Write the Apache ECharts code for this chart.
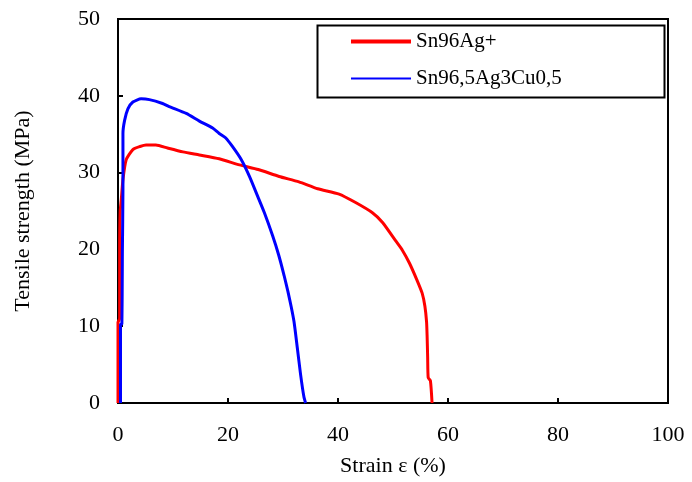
<!DOCTYPE html>
<html>
<head>
<meta charset="utf-8">
<script src="https://cdn.jsdelivr.net/npm/echarts@6/dist/echarts.min.js"></script>
<style>
html,body{margin:0;padding:0;background:#fff;}
#chart{width:692px;height:482px;}
</style>
</head>
<body>
<div id="chart"></div>
<script>
var FONT = "'Liberation Serif', 'Times New Roman', serif";
var seriesNames = ["Sn96Ag+", "Sn96,5Ag3Cu0,5"];
var xTicks = [0, 20, 40, 60, 80, 100];
var yTicks = [0, 10, 20, 30, 40, 50];
// Strain (%) , Tensile strength (MPa)
var sn96AgPlus = [
  [0,0],[0,10.5],[0.3,11],[0.3,20],[0.4,25],[0.6,26.5],[0.9,29.1],[1.5,31.7],[2.7,33.0],[4,33.4],
  [5.1,33.6],[6.9,33.6],[9,33.2],[11.8,32.7],[14.8,32.3],[18.4,31.8],[22.1,31.0],[25.5,30.4],
  [29.3,29.5],[32.9,28.8],[36.3,27.9],[40.2,27.2],[43.2,26.1],[46.2,24.8],[48.1,23.5],[50.5,21.1],
  [51.7,19.9],[53.0,18.2],[54.3,16.1],[55.3,14.3],[55.8,12.6],[56.1,10.6],[56.2,8.8],[56.3,6],
  [56.4,3.3],[56.8,2.9],[57.1,0]
];
var sn965Ag3Cu05 = [
  [0.45,0],[0.45,10.2],[0.7,10.3],[0.8,20],[0.9,27.8],[0.9,35.1],[1.2,36.8],[1.8,38.3],[2.7,39.2],
  [4.2,39.6],[5.7,39.5],[8.1,39.0],[9.3,38.6],[12.4,37.7],[14.8,36.7],[17.2,35.8],[18.4,35.1],
  [19.6,34.5],[20.8,33.4],[22.4,31.7],[23.9,29.5],[25.4,26.9],[26.6,24.8],[28.1,21.8],[29.2,19.3],
  [30.2,16.6],[30.9,14.5],[31.5,12.5],[32.0,10.6],[32.6,7.2],[33.2,3.7],[33.8,0.8],[34.1,0]
];

var chart = echarts.init(document.getElementById('chart'), null, {renderer:'canvas'});
chart.setOption({
  animation: false,
  backgroundColor: '#fff',
  grid: {left:118, right:24, top:19, bottom:77, show:true, borderColor:'#000', borderWidth:2, backgroundColor:'transparent'},
  xAxis: {
    type:'value', min:xTicks[0], max:xTicks[xTicks.length-1], interval:20,
    name:'Strain ε (%)', nameLocation:'middle', nameGap:52,
    nameTextStyle:{fontFamily:FONT, fontSize:22, color:'#000'},
    axisLine:{lineStyle:{color:'#000', width:2}},
    axisTick:{inside:true, length:5, lineStyle:{color:'#000', width:2}},
    axisLabel:{fontFamily:FONT, fontSize:22, color:'#000', margin:21},
    splitLine:{show:false}
  },
  yAxis: {
    type:'value', min:yTicks[0], max:yTicks[yTicks.length-1], interval:10,
    name:'Tensile strength (MPa)', nameLocation:'middle', nameGap:84,
    nameTextStyle:{fontFamily:FONT, fontSize:22, color:'#000'},
    axisLine:{lineStyle:{color:'#000', width:2}},
    axisTick:{inside:true, length:5, lineStyle:{color:'#000', width:2}},
    axisLabel:{fontFamily:FONT, fontSize:22, color:'#000', margin:18},
    splitLine:{show:false}
  },
  legend: {
    orient:'vertical', left:349, top:31, padding:0, itemWidth:60, itemHeight:14, itemGap:16,
    textStyle:{fontFamily:FONT, fontSize:21, color:'#000', lineHeight:20},
    data:[
      {name:seriesNames[0], lineStyle:{width:4}, itemStyle:{opacity:0}},
      {name:seriesNames[1], lineStyle:{width:2}, itemStyle:{opacity:0}}
    ]
  },
  graphic: [{
    type:'rect', left:315, top:23, shape:{width:347, height:72},
    style:{fill:'none', stroke:'#000', lineWidth:2}, z:100
  }],
  series: [
    {name:seriesNames[0], type:'line', data:sn96AgPlus, symbol:'none', showSymbol:false, smooth:0.2,
     lineStyle:{color:'#ff0000', width:3}, itemStyle:{color:'#ff0000'}},
    {name:seriesNames[1], type:'line', data:sn965Ag3Cu05, symbol:'none', showSymbol:false, smooth:0.2,
     lineStyle:{color:'#0000ff', width:3}, itemStyle:{color:'#0000ff'}}
  ]
});
</script>
</body>
</html>
